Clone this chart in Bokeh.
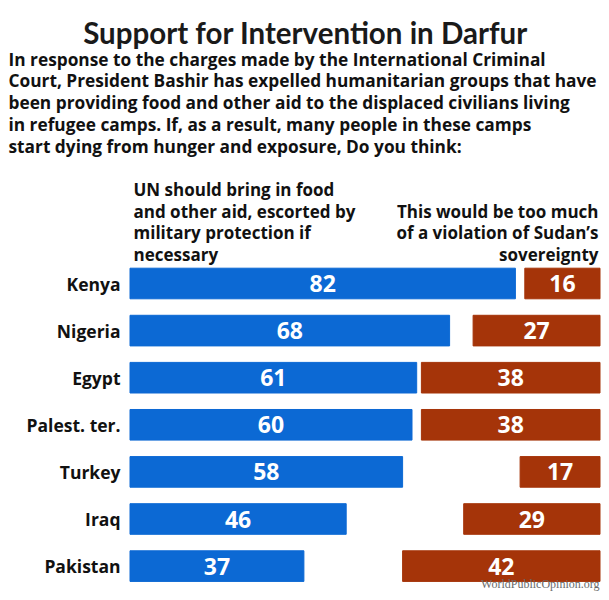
from bokeh.plotting import figure
from bokeh.models import Range1d, Label, ColumnDataSource
from bokeh.core.properties import value
from bokeh.embed import file_html
from bokeh.resources import INLINE

countries = ["Kenya", "Nigeria", "Egypt", "Palest. ter.", "Turkey", "Iraq", "Pakistan"]
un_should = [82, 68, 61, 60, 58, 46, 37]
violation = [16, 27, 38, 38, 17, 29, 42]

title = "Support for Intervention in Darfur"
question = [
    "In response to the charges made by the International Criminal",
    "Court, President Bashir has expelled humanitarian groups that have",
    "been providing food and other aid to the displaced civilians living",
    "in refugee camps.  If, as a result, many people in these camps",
    "start dying from hunger and exposure, Do you think:",
]
header_left = ["UN should bring in food", "and other aid, escorted by",
               "military protection if", "necessary"]
header_right = ["This would be too much", "of a violation of Sudan\u2019s", "sovereignty"]
source_note = "WorldPublicOpinion.org"

BLUE = "#0c69d4"
BROWN = "#a53409"
FONT = "Open Sans"
TFONT = "Lato"

W, H = 601, 592
PX = 4.7          # pixels per percentage point
ZERO = 129.5      # picture x of 0%
ROW0 = 283        # picture y of first row centre
PITCH = 47.1

x0 = -ZERO / PX
x1 = x0 + W / PX
y_top = -ROW0 / PITCH
y_bot = (H - ROW0) / PITCH

p = figure(width=W, height=H, output_backend="svg", toolbar_location=None,
           x_range=Range1d(x0, x1), y_range=Range1d(y_bot, y_top),
           min_border=0)
p.axis.visible = False
p.grid.visible = False
p.outline_line_color = None
p.background_fill_color = "white"

idx = list(range(len(countries)))
src = ColumnDataSource(dict(
    y=idx, country=countries,
    un=un_should, un_mid=[v / 2 for v in un_should], un_txt=[str(v) for v in un_should],
    vl_left=[100 - v for v in violation], vl_mid=[100 - v / 2 for v in violation],
    vl_txt=[str(v) for v in violation],
    right=[100] * len(idx), zero=[0] * len(idx),
    lab_x=[-(ZERO - 120) / PX] * len(idx),
))

p.hbar(y="y", left="zero", right="un", height=0.65, color=BLUE, source=src)
p.hbar(y="y", left="vl_left", right="right", height=0.65, color=BROWN, source=src)

p.text(x="un_mid", y="y", text="un_txt", source=src, text_font=value(FONT),
       text_font_style="bold", text_font_size="23px", text_color="white",
       text_align="center", text_baseline="middle")
p.text(x="vl_mid", y="y", text="vl_txt", source=src, text_font=value(FONT),
       text_font_style="bold", text_font_size="23px", text_color="white",
       text_align="center", text_baseline="middle")
p.text(x="lab_x", y="y", text="country", source=src, text_font=value(FONT),
       text_font_style="bold", text_font_size="17.5px", text_color="#111111",
       text_align="right", text_baseline="middle")


def lab(txt, px, py, size, style="bold", align="left", color="#111111", font=FONT,
        baseline="alphabetic"):
    p.add_layout(Label(x=px, y=H - py, x_units="screen", y_units="screen",
                       text=txt, text_font=font, text_font_size=size,
                       text_font_style=style, text_align=align,
                       text_baseline=baseline, text_color=color))


lab(title, 305, 32, "29.5px", align="center", font=TFONT, color="#1a1a1a")
for i, line in enumerate(question):
    lab(line, 8, 58.5 + i * 21.8, "17.3px")
for i, line in enumerate(header_left):
    lab(line, 133, 189 + i * 21.5, "17px")
for i, line in enumerate(header_right):
    lab(line, 598, 210.5 + i * 21.5, "17px", align="right")
lab(source_note, 599, 590.5, "12px", style="normal", align="right",
    color="#6a6a6a", font="Liberation Serif", baseline="bottom")

open("out.html", "w").write(file_html(p, INLINE))
